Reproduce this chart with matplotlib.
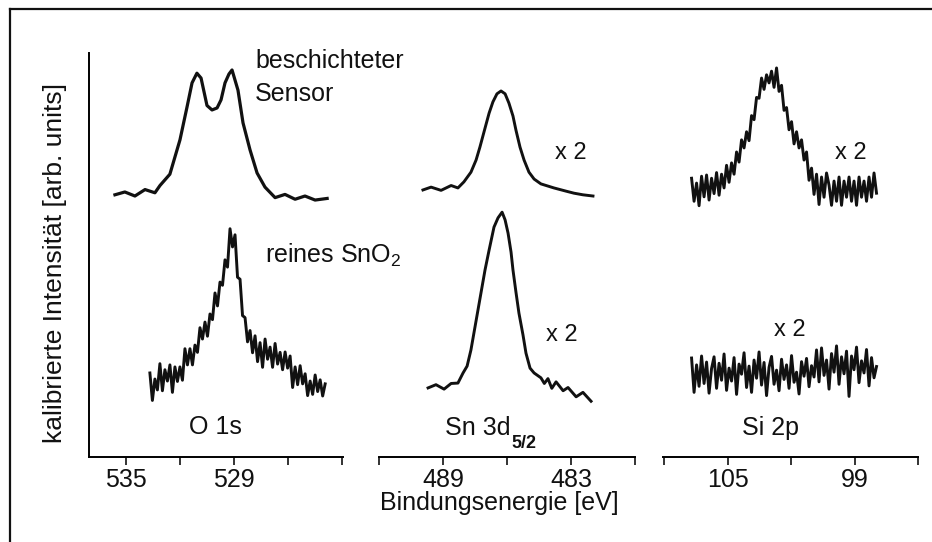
import matplotlib
matplotlib.use("Agg")
import matplotlib.pyplot as plt
import numpy as np
from matplotlib.lines import Line2D

plt.rcParams["font.family"] = ["Liberation Sans", "DejaVu Sans"]
plt.rcParams["mathtext.default"] = "regular"

# ---- O 1s, beschichteter Sensor (energy eV, intensity arb.)
o1s_top_e = [535.61, 535.06, 534.50, 533.94, 533.39, 533.11, 532.56, 532.00, 531.61,
             531.33, 531.06, 530.83, 530.50, 530.22, 529.94, 529.72, 529.50, 529.28,
             529.11, 528.78, 528.50, 528.11, 527.72, 527.28, 526.72, 526.17, 525.61,
             525.06, 524.50, 523.83]
o1s_top_i = [64.9, 65.6, 64.6, 66.2, 65.4, 67.2, 70.0, 78.5, 86.6,
             92.6, 95.0, 93.8, 87.0, 85.9, 86.4, 88.4, 92.6, 94.8,
             95.8, 90.8, 82.7, 76.0, 70.3, 66.8, 64.2, 65.0, 63.8,
             64.6, 63.6, 64.0]

# ---- O 1s, reines SnO2 (spectrometer grid from 533.67 to 523.94 eV)
o1s_bot_i = [20.8, 14.0, 19.3, 16.6, 23.1, 16.4, 21.6, 18.8, 22.8, 16.0,
             22.3, 18.7, 22.3, 19.0, 26.8, 22.8, 26.8, 22.8, 27.7, 25.9,
             32.0, 29.2, 33.4, 29.9, 35.4, 34.0, 40.6, 37.4, 43.3, 42.5,
             48.8, 47.0, 56.5, 52.0, 55.0, 44.5, 44.0, 35.0, 34.5, 28.5,
             31.3, 25.8, 30.0, 23.6, 28.3, 22.2, 29.2, 24.2, 27.2, 22.2,
             28.1, 23.0, 25.9, 21.6, 26.0, 22.0, 25.0, 17.2, 22.3, 17.9,
             22.6, 18.1, 20.6, 15.2, 18.8, 15.5, 20.3, 16.2, 19.1, 15.1,
             18.1]
o1s_bot_range = (533.67, 523.94)

# ---- Sn 3d5/2
sn_top_e = [489.94, 489.56, 489.09, 488.62, 488.30, 488.02, 487.69, 487.45, 487.27,
            487.03, 486.84, 486.66, 486.47, 486.28, 486.09, 485.91, 485.72, 485.58,
            485.39, 485.20, 484.97, 484.73, 484.41, 483.80, 483.23, 482.86, 482.44,
            481.97]
sn_top_i = [66.1, 66.8, 66.0, 67.2, 66.6, 68.1, 70.5, 73.5, 76.7,
            81.4, 85.1, 87.9, 89.9, 90.6, 89.9, 87.6, 84.4, 80.9,
            76.7, 73.5, 70.5, 68.8, 67.6, 66.6, 65.8, 65.3, 64.9,
            64.6]
sn_bot_e = [489.70, 489.33, 488.95, 488.62, 488.30, 488.06, 487.87, 487.69, 487.55,
            487.36, 487.22, 487.03, 486.84, 486.61, 486.42, 486.23, 486.09, 485.95,
            485.81, 485.72, 485.58, 485.44, 485.25, 485.11, 484.92, 484.73, 484.41,
            484.25, 484.08, 483.90, 483.70, 483.37, 483.14, 482.76, 482.44, 482.06]
sn_bot_i = [17.1, 17.9, 16.8, 18.2, 18.3, 20.8, 22.5, 26.5, 30.7,
            36.4, 40.6, 46.3, 51.2, 56.9, 59.2, 60.6, 58.7, 55.4,
            50.7, 46.3, 40.8, 35.6, 30.2, 25.7, 22.0, 20.8, 19.6,
            18.2, 19.4, 17.0, 18.6, 16.4, 17.2, 14.9, 16.0, 13.8]

# ---- Si 2p (spectrometer grid from 106.70 to 97.96 eV)
si_top_i = [69.0, 63.3, 67.8, 62.2, 69.5, 64.4, 69.8, 63.6, 69.0, 65.2,
            70.4, 64.8, 70.0, 66.6, 72.2, 68.0, 72.8, 70.0, 75.5, 73.0,
            78.5, 76.5, 80.5, 78.3, 84.5, 83.5, 89.0, 88.8, 93.8, 91.0,
            94.6, 92.6, 95.5, 91.5, 96.3, 90.5, 92.0, 85.8, 86.5, 81.0,
            83.0, 77.5, 80.5, 76.5, 78.5, 73.5, 75.5, 68.5, 71.5, 65.0,
            70.0, 62.5, 69.3, 64.3, 70.3, 67.3, 62.3, 68.3, 63.3, 69.3,
            62.3, 68.3, 64.3, 69.3, 63.3, 68.3, 62.3, 69.3, 64.3, 68.3,
            63.3, 69.3, 64.3, 70.3, 65.3]
si_bot_i = [24.5, 16.0, 22.8, 17.5, 25.0, 18.2, 23.5, 15.8, 21.9, 24.8,
            17.0, 23.2, 19.0, 25.5, 16.5, 22.0, 18.8, 24.6, 15.5, 23.0,
            20.5, 25.8, 17.2, 22.5, 16.0, 24.0, 19.5, 26.0, 17.8, 23.4,
            15.2, 22.2, 24.9, 18.0, 21.5, 16.4, 24.2, 19.2, 22.8, 17.0,
            25.1, 18.5, 21.0, 15.6, 23.6, 20.0, 24.4, 17.4, 22.6, 19.8,
            26.5, 18.6, 27.0, 20.2, 24.0, 16.8, 25.6, 21.0, 27.5, 18.0,
            24.8, 20.6, 26.2, 15.0, 25.0, 21.6, 27.2, 18.4, 23.8, 20.8,
            26.6, 17.6, 24.6, 19.6, 22.4]
si_range = (106.70, 97.96)

# ticks per panel
ticks1 = [535, 532, 529, 526, 523]
labels1 = ["535", "", "529", "", ""]
ticks2 = [492, 489, 486, 483, 480]
labels2 = ["", "489", "", "483", ""]
ticks3 = [108, 105, 102, 99, 96]
labels3 = ["", "105", "", "99", ""]

W, H = 932, 542
fig = plt.figure(figsize=(W / 100, H / 100), dpi=100)

def fx(px):
    return px / W

def fy(py):
    return 1 - py / H

bot, top = fy(457), fy(53)
ax1 = fig.add_axes([fx(89), bot, fx(343) - fx(89), top - bot])
ax2 = fig.add_axes([fx(379), bot, fx(635) - fx(379), top - bot])
ax3 = fig.add_axes([fx(663), bot, fx(918) - fx(663), top - bot])

col = "#111111"
ax1.plot(o1s_top_e, o1s_top_i, color=col, lw=2.3)
ax1.plot(np.linspace(*o1s_bot_range, len(o1s_bot_i)), o1s_bot_i, color=col, lw=2.1)
ax2.plot(sn_top_e, sn_top_i, color=col, lw=2.1)
ax2.plot(sn_bot_e, sn_bot_i, color=col, lw=2.1)
ax3.plot(np.linspace(*si_range, len(si_top_i)), si_top_i, color=col, lw=2.1)
ax3.plot(np.linspace(*si_range, len(si_bot_i)), si_bot_i, color=col, lw=2.1)

for ax, lim, tk, lb in [(ax1, (537.05, 522.95), ticks1, labels1),
                        (ax2, (492, 480), ticks2, labels2),
                        (ax3, (108.05, 96.0), ticks3, labels3)]:
    ax.set_xlim(lim)
    ax.set_ylim(0, 100)
    ax.set_xticks(tk)
    ax.set_xticklabels(lb)
    ax.set_yticks([])
    ax.spines["top"].set_visible(False)
    ax.spines["right"].set_visible(False)
    ax.spines["bottom"].set_linewidth(1.4)
    ax.tick_params(axis="x", direction="out", length=6, width=1.2,
                   labelsize=18, pad=2, colors=col)
    ax.patch.set_alpha(0)
ax1.spines["left"].set_linewidth(1.4)
ax2.spines["left"].set_visible(False)
ax3.spines["left"].set_visible(False)

fs = 18
fig.text(fx(255), fy(68), "beschichteter", fontsize=fs, va="baseline", color=col)
fig.text(fx(255), fy(101), "Sensor", fontsize=fs, va="baseline", color=col)
fig.text(fx(265), fy(263), "reines SnO$_2$", fontsize=fs, va="baseline", color=col)
fig.text(fx(215), fy(427), "O 1s", fontsize=fs, ha="center", va="center", color=col)
fig.text(fx(445), fy(428), "Sn 3d", fontsize=fs, ha="left", va="center", color=col)
fig.text(fx(511), fy(444), "5/2", fontsize=13, ha="left", va="center",
         fontweight="bold", color=col)
fig.text(fx(771), fy(428), "Si 2p", fontsize=fs, ha="center", va="center", color=col)
for xp, yp in [(571, 153), (562, 335), (851, 153), (790, 330)]:
    fig.text(fx(xp), fy(yp), "x 2", fontsize=17, ha="center", va="center", color=col)

fig.text(fx(55), fy(263), "kalibrierte Intensität [arb. units]", fontsize=19,
         rotation=90, ha="center", va="center", color=col)
fig.text(fx(499), fy(510), "Bindungsenergie [eV]", fontsize=fs,
         ha="center", va="baseline", color=col)

# scanned frame
fig.add_artist(Line2D([fx(10), fx(10)], [fy(9), 0], transform=fig.transFigure,
                      color=col, lw=1.6))
fig.add_artist(Line2D([fx(10), 1], [fy(9), fy(9)], transform=fig.transFigure,
                      color=col, lw=1.6))

fig.savefig("out.png", dpi=100)
